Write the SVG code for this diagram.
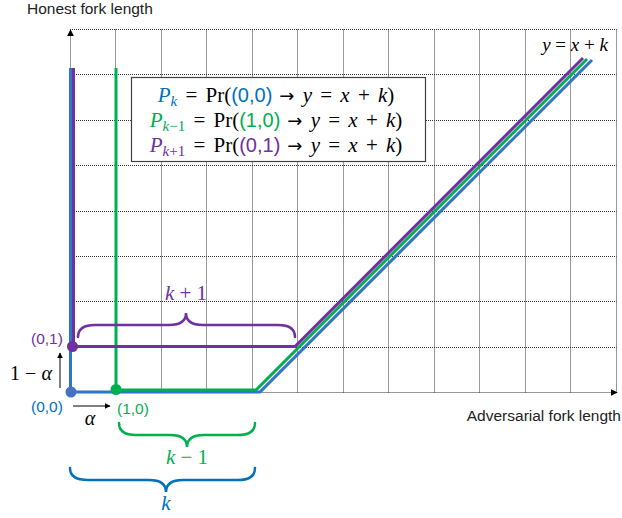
<svg xmlns="http://www.w3.org/2000/svg" width="622" height="518" viewBox="0 0 622 518">
<defs>
<marker id="ah" viewBox="0 0 10 10" refX="9" refY="5" markerWidth="7" markerHeight="7" markerUnits="userSpaceOnUse" orient="auto"><path d="M0,0 L10,5 L0,10 z" fill="#000"/></marker>
<marker id="ahs" viewBox="0 0 10 10" refX="9" refY="5" markerWidth="6" markerHeight="6" markerUnits="userSpaceOnUse" orient="auto"><path d="M0,0 L10,5 L0,10 z" fill="#000"/></marker>
</defs>
<style>
.grid{stroke:#333;stroke-width:1;stroke-dasharray:1 1;fill:none}
.ln{fill:none;stroke-width:3;stroke-linejoin:miter}
.br{fill:none;stroke-width:2.5;stroke-linecap:round}
.sans{font-family:"Liberation Sans",Arial,sans-serif}
.m{font-family:"Liberation Serif","DejaVu Serif",serif}
.leg{font-size:21px;word-spacing:3px}
.ar{font-family:"DejaVu Sans",sans-serif;font-size:18px}
.i{font-style:italic}
.b{fill:#0070C0}.g{fill:#00B050}.p{fill:#7030A0}
</style>
<rect width="622" height="518" fill="#fff"/>
<g id="grid">
<path class="grid" d="M115.5,29.5V392.5M161.5,29.5V392.5M206.5,29.5V392.5M252.5,29.5V392.5M297.5,29.5V392.5M343.5,29.5V392.5M388.5,29.5V392.5M434.5,29.5V392.5M479.5,29.5V392.5M525.5,29.5V392.5M570.5,29.5V392.5M616.5,29.5V392.5"/>
<path class="grid" d="M70,29.5H616.5M70,74.5H616.5M70,120.5H616.5M70,165.5H616.5M70,211.5H616.5M70,256.5H616.5M70,301.5H616.5M70,347.5H616.5"/>
</g>
<g id="axes">
<line class="grid" x1="70.5" y1="392.5" x2="70.5" y2="30" stroke="#000" marker-end="url(#ah)"/>
<line class="grid" x1="70.5" y1="392.5" x2="617" y2="392.5" marker-end="url(#ah)"/>
<text class="sans" x="27" y="14" font-size="15.5" fill="#222">Honest fork length</text>
<text class="sans" x="621" y="421" font-size="15.5" fill="#222" text-anchor="end">Adversarial fork length</text>
</g>
<g id="legend">
<rect x="131.5" y="77.5" width="294" height="84" fill="#fff" stroke="#404040" stroke-width="1.2"/>
<text class="m leg" x="276" y="102" text-anchor="middle"><tspan class="i b">P</tspan><tspan class="i b" font-size="15" dy="4">k</tspan><tspan dy="-4"> = Pr(</tspan><tspan class="sans b" font-size="20">(0,0)</tspan><tspan class="ar" dx="7">→</tspan> <tspan class="i">y</tspan> = <tspan class="i">x</tspan> + <tspan class="i">k</tspan>)</text>
<text class="m leg" x="276" y="127" text-anchor="middle"><tspan class="i g">P</tspan><tspan class="g" font-size="15" dy="4"><tspan class="i">k</tspan>−1</tspan><tspan dy="-4"> = Pr(</tspan><tspan class="sans g" font-size="20">(1,0)</tspan><tspan class="ar" dx="7">→</tspan> <tspan class="i">y</tspan> = <tspan class="i">x</tspan> + <tspan class="i">k</tspan>)</text>
<text class="m leg" x="276" y="152" text-anchor="middle"><tspan class="i p">P</tspan><tspan class="p" font-size="15" dy="4"><tspan class="i">k</tspan>+1</tspan><tspan dy="-4"> = Pr(</tspan><tspan class="sans p" font-size="20">(0,1)</tspan><tspan class="ar" dx="7">→</tspan> <tspan class="i">y</tspan> = <tspan class="i">x</tspan> + <tspan class="i">k</tspan>)</text>
</g>
<g id="connectors">
<path class="ln" stroke="#2E75C6" d="M70.5,68V392H260L592,60"/>
<path class="ln" stroke="#00B050" d="M116,68V390H256L587,59"/>
<path class="ln" stroke="#7030A0" d="M73.5,68V346.5H295L583,58"/>
<line x1="60" y1="388" x2="60" y2="353" stroke="#000" stroke-width="1" marker-end="url(#ahs)"/>
<line x1="73" y1="406" x2="110" y2="406" stroke="#000" stroke-width="1" marker-end="url(#ahs)"/>
</g>
<g id="braces">
<path class="br" stroke="#7030A0" d="M78,337Q78,325 95,325L169,325Q186,325 186,313Q186,325 203,325L278,325Q295,325 295,337"/>
<path class="br" stroke="#00B050" d="M119,423Q119,435 136,435L170,435Q187,435 187,447Q187,435 204,435L238,435Q255,435 255,423"/>
<path class="br" stroke="#0070C0" d="M70,468Q70,480 88,480L149,480Q166,480 166,492Q166,480 183,480L238,480Q255,480 255,468"/>
</g>
<g id="node-00"><circle cx="71" cy="392" r="5.5" fill="#4472C4"/><text class="sans b" x="31" y="412" font-size="15.5">(0,0)</text></g>
<g id="node-10"><circle cx="116" cy="389.5" r="5.5" fill="#00B050"/><text class="sans g" x="117" y="414" font-size="15.5">(1,0)</text></g>
<g id="node-01"><circle cx="72.5" cy="346.5" r="5.5" fill="#7030A0"/><text class="sans p" x="31" y="344" font-size="15.5">(0,1)</text></g>
<g id="labels">
<text class="m" x="31" y="380" font-size="20" text-anchor="middle">1 − <tspan class="i">α</tspan></text>
<text class="m i" x="90" y="425" font-size="20" text-anchor="middle">α</text>
<text class="m p" x="186" y="300" font-size="21" text-anchor="middle"><tspan class="i">k</tspan> + 1</text>
<text class="m g" x="187" y="464" font-size="21" text-anchor="middle"><tspan class="i">k</tspan> − 1</text>
<text class="m b i" x="166" y="510" font-size="21" text-anchor="middle">k</text>
<text class="m" x="575" y="51" font-size="19" text-anchor="middle"><tspan class="i">y</tspan> = <tspan class="i">x</tspan> + <tspan class="i">k</tspan></text>
</g>
</svg>
